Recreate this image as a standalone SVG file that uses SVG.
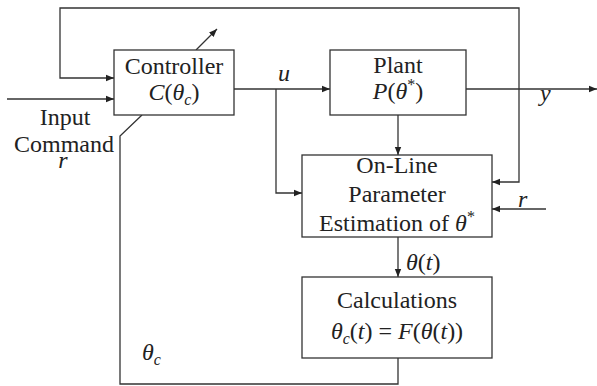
<svg xmlns="http://www.w3.org/2000/svg" width="597" height="386" viewBox="0 0 597 386">
<defs>
<marker id="ah" viewBox="0 0 10 10" refX="10" refY="5" markerWidth="8" markerHeight="8" markerUnits="userSpaceOnUse" orient="auto">
<path d="M0,1 L10,5 L0,9 Z" fill="#222"/>
</marker>
<style>
svg text, svg tspan { font-family: 'Liberation Serif', 'Times New Roman', serif !important; }
</style>
</defs>
<rect width="597" height="386" fill="#fff"/>
<g id="connectors" fill="none" stroke="#333" stroke-width="1.3">
<polyline points="519,89 519,8 60,8 60,78 114,78" marker-end="url(#ah)"/>
<line x1="7" y1="99" x2="114" y2="99" marker-end="url(#ah)"/>
<line x1="196" y1="50" x2="217" y2="29" marker-end="url(#ah)"/>
<line x1="234" y1="89" x2="330" y2="89" marker-end="url(#ah)"/>
<polyline points="276,89 276,193 302,193" marker-end="url(#ah)"/>
<line x1="466" y1="89" x2="597" y2="89" marker-end="url(#ah)"/>
<line x1="398" y1="115" x2="398" y2="155" marker-end="url(#ah)"/>
<polyline points="519,89 519,182 492,182" marker-end="url(#ah)"/>
<line x1="546" y1="209" x2="492" y2="209" marker-end="url(#ah)"/>
<line x1="398" y1="237" x2="398" y2="277" marker-end="url(#ah)"/>
<polyline points="398,358 398,384 120,384 120,136 142,115"/>
</g>
<g font-family="Liberation Serif, serif" font-size="24" fill="#222">
<g id="controller">
<rect x="114" y="50" width="120" height="65" fill="#fff" stroke="#333" stroke-width="1.3"/>
<text text-anchor="middle" x="174" y="74">Controller</text>
<text text-anchor="middle" x="174" y="100"><tspan font-style="italic">C</tspan>(<tspan font-style="italic">θ</tspan><tspan font-style="italic" font-size="16" dy="5">c</tspan><tspan dy="-5">)</tspan></text>
</g>
<g id="plant">
<rect x="330" y="50" width="136" height="65" fill="#fff" stroke="#333" stroke-width="1.3"/>
<text text-anchor="middle" x="398" y="73">Plant</text>
<text text-anchor="middle" x="398" y="99"><tspan font-style="italic">P</tspan>(<tspan font-style="italic">θ</tspan><tspan font-size="16" dy="-9">*</tspan><tspan dy="9">)</tspan></text>
</g>
<g id="estimation">
<rect x="302" y="155" width="190" height="82" fill="#fff" stroke="#333" stroke-width="1.3"/>
<text text-anchor="middle" x="397" y="173">On-Line</text>
<text text-anchor="middle" x="397" y="202">Parameter</text>
<text text-anchor="middle" x="397" y="231">Estimation of <tspan font-style="italic">θ</tspan><tspan font-size="16" dy="-9">*</tspan></text>
</g>
<g id="calculations">
<rect x="302" y="277" width="190" height="81" fill="#fff" stroke="#333" stroke-width="1.3"/>
<text text-anchor="middle" x="397" y="308">Calculations</text>
<text text-anchor="middle" x="397" y="339"><tspan font-style="italic">θ</tspan><tspan font-style="italic" font-size="16" dy="5">c</tspan><tspan dy="-5">(</tspan><tspan font-style="italic">t</tspan>) = <tspan font-style="italic">F</tspan>(<tspan font-style="italic">θ</tspan>(<tspan font-style="italic">t</tspan>))</text>
</g>
<g id="labels">
<text font-style="italic" x="278" y="81">u</text>
<text font-style="italic" x="540" y="101">y</text>
<text font-style="italic" x="518" y="207">r</text>
<text text-anchor="middle" x="65" y="125">Input</text>
<text text-anchor="middle" x="64" y="152">Command</text>
<text font-style="italic" text-anchor="middle" x="63" y="168">r</text>
<text x="406" y="270"><tspan font-style="italic">θ</tspan>(<tspan font-style="italic">t</tspan>)</text>
<text font-style="italic" x="142" y="360">θ<tspan font-size="16" dy="5">c</tspan></text>
</g>
</g>
</svg>
